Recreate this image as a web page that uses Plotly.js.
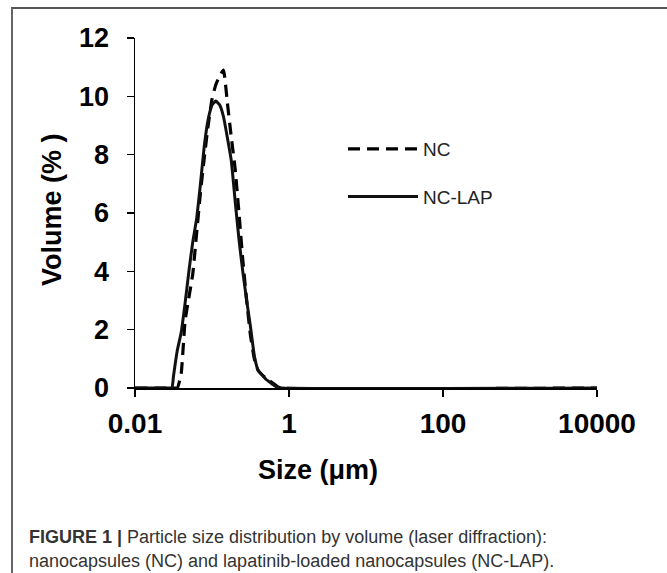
<!DOCTYPE html>
<html>
<head>
<meta charset="utf-8">
<script src="https://cdn.plot.ly/plotly-3.0.1.min.js"></script>
<style>
  html, body { margin: 0; padding: 0; background: #fff; overflow: hidden; }
  #wrap { position: relative; width: 667px; height: 573px; }
  #chart { position: absolute; left: 0; top: 0; width: 667px; height: 573px; }
  #frame { position: absolute; left: 11px; top: 7px; width: 720px; height: 620px;
           border-top: 2px solid #555; border-left: 2px solid #666; pointer-events: none; }
</style>
</head>
<body>
<div id="wrap">
  <div id="chart"></div>
  <div id="frame"></div>
</div>
<script>
// Particle size (µm), common bins
const sizes = [0.01, 0.0282, 0.0302, 0.0316, 0.0355, 0.0398, 0.0447, 0.0501, 0.0562, 0.0631,
               0.0708, 0.0794, 0.0891, 0.1, 0.112, 0.126, 0.141, 0.158, 0.178, 0.2,
               0.224, 0.251, 0.282, 0.316, 0.355, 0.398, 0.447, 0.501, 0.562, 0.631,
               0.708, 0.794, 10000];
// Volume (%) – nanocapsules (NC)
const ncVolume = [0, 0, 0, 0, 0, 0.5, 2.3, 3.1, 3.9, 5.3,
                  6.7, 7.9, 9.0, 9.9, 10.4, 10.7, 10.9, 9.8, 8.6, 7.5,
                  6.0, 4.4, 3.0, 1.8, 1.0, 0.6, 0.45, 0.35, 0.25, 0.15,
                  0.05, 0, 0];
// Volume (%) – lapatinib-loaded nanocapsules (NC-LAP)
const nclapVolume = [0, 0, 0, 0.4, 1.3, 1.9, 2.9, 4.0, 5.0, 5.8,
                     7.0, 8.3, 9.2, 9.7, 9.84, 9.7, 9.3, 8.6, 7.8, 6.4,
                     5.1, 4.0, 3.0, 2.1, 1.1, 0.6, 0.45, 0.3, 0.2, 0.1,
                     0.03, 0, 0];
const seriesNames = ['NC', 'NC-LAP'];
const xTickVals = [0.01, 1, 100, 10000];
const xTickText = ['0.01', '1', '100', '10000'];
const yTickVals = [0, 2, 4, 6, 8, 10, 12];
const xTitle = 'Size (μm)';
const yTitle = 'Volume (% )';
const captionLine1 = '<b>FIGURE 1 |</b> Particle size distribution by volume (laser diffraction):';
const captionLine2 = 'nanocapsules (NC) and lapatinib-loaded nanocapsules (NC-LAP).';

const traces = [
  { x: sizes, y: ncVolume, name: seriesNames[0], type: 'scatter', mode: 'lines',
    legendgroup: 'g1',
    line: { color: '#000', width: 3.2, dash: '12px,7px', shape: 'spline', smoothing: 0.4 } },
  { x: sizes, y: nclapVolume, name: seriesNames[1], type: 'scatter', mode: 'lines',
    legendgroup: 'g2',
    line: { color: '#111', width: 3, shape: 'spline', smoothing: 0.4 } }
];

const boldFont = (s) => ({ family: 'Arial, Liberation Sans, sans-serif', size: s, color: '#000', weight: 'bold' });
const W = 462, H = 350, L = 135, T = 38;
const px = (x) => (x - L) / W;
const py = (y) => (T + H - y) / H;

const layout = {
  width: 667, height: 573,
  margin: { l: 135, r: 70, t: 38, b: 185 },
  paper_bgcolor: '#fff', plot_bgcolor: '#fff',
  showlegend: true,
  legend: { x: px(343), y: py(130), xanchor: 'left', yanchor: 'top',
            bgcolor: 'rgba(0,0,0,0)', itemwidth: 70, tracegroupgap: 20,
            font: { family: 'Arial, Liberation Sans, sans-serif', size: 19, color: '#222' } },
  xaxis: { type: 'log', range: [-2, 4], tickmode: 'array', tickvals: xTickVals, ticktext: xTickText,
           ticks: 'outside', ticklen: 7, tickwidth: 1.5, tickcolor: '#000',
           showline: true, linecolor: '#000', linewidth: 1.5, showgrid: false, zeroline: false,
           tickfont: boldFont(28), ticklabelstandoff: 3, fixedrange: true },
  yaxis: { range: [0, 12], tickmode: 'array', tickvals: yTickVals,
           ticks: 'outside', ticklen: 7, tickwidth: 1.5, tickcolor: '#000',
           showline: true, linecolor: '#000', linewidth: 1.5, showgrid: false, zeroline: false,
           tickfont: boldFont(27), ticklabelstandoff: 12, fixedrange: true },
  annotations: [
    { text: xTitle, xref: 'paper', yref: 'paper', x: px(318), y: py(470), xanchor: 'center', yanchor: 'middle',
      showarrow: false, font: boldFont(27) },
    { text: yTitle, xref: 'paper', yref: 'paper', x: px(52), y: py(210), xanchor: 'center', yanchor: 'middle',
      textangle: -90, showarrow: false, font: boldFont(27) },
    { text: captionLine1, xref: 'paper', yref: 'paper', x: px(27), y: py(537), xanchor: 'left', yanchor: 'middle',
      showarrow: false, font: { family: 'Arial, Liberation Sans, sans-serif', size: 18, color: '#333' } },
    { text: captionLine2, xref: 'paper', yref: 'paper', x: px(27), y: py(561), xanchor: 'left', yanchor: 'middle',
      showarrow: false, font: { family: 'Arial, Liberation Sans, sans-serif', size: 18, color: '#333' } }
  ]
};

Plotly.newPlot('chart', traces, layout, { displayModeBar: false, staticPlot: true });
</script>
</body>
</html>
